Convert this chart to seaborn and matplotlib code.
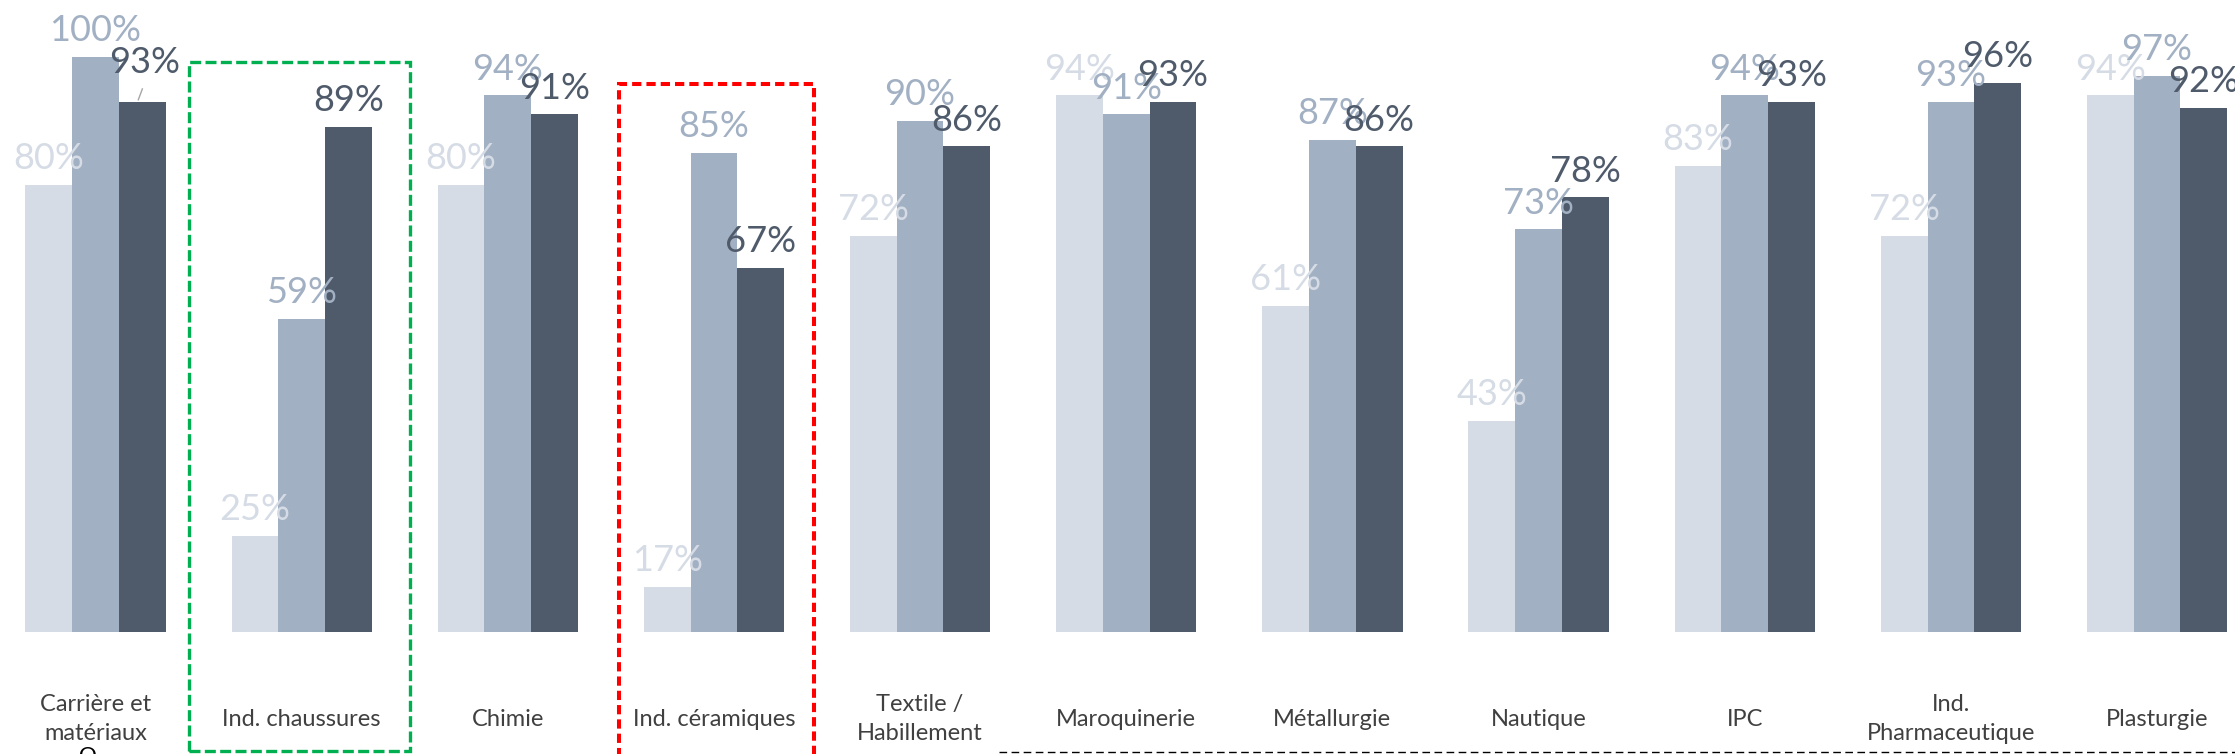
import matplotlib
matplotlib.use("Agg")
import matplotlib.pyplot as plt
import matplotlib.transforms as mtransforms
import seaborn as sns
import pandas as pd
from matplotlib.patches import Rectangle
from matplotlib.lines import Line2D

# ---------------- data ----------------
categories = ["Carrière et\nmatériaux", "Ind. chaussures", "Chimie", "Ind. céramiques",
              "Textile /\nHabillement", "Maroquinerie", "Métallurgie", "Nautique", "IPC",
              "Ind.\nPharmaceutique", "Plasturgie"]
series_names = ["Série 1", "Série 2", "Série 3"]
serie1 = [80, 25, 80, 17, 72, 94, 61, 43, 83, 72, 94]
serie2 = [100, 59, 94, 85, 90, 91, 87, 73, 94, 93, 97]
serie3 = [93, 89, 91, 67, 86, 93, 86, 78, 93, 96, 92]
colors = ["#D6DCE5", "#A2B0C3", "#4F5B6B"]

# ---------------- style ----------------
sns.set_theme(style="white")
plt.rcParams['font.family'] = ['Lato', 'DejaVu Sans']

df = pd.DataFrame({
    "cat": categories * 3,
    "serie": [s for s in series_names for _ in categories],
    "val": [v / 100 for v in serie1 + serie2 + serie3],
})

W, H = 2235, 754
fig = plt.figure(figsize=(W / 100, H / 100), dpi=100)
base_px = 631.5
ax = fig.add_axes([0, 1 - base_px / H, 1, base_px / H])

sns.barplot(data=df, x="cat", y="val", hue="serie", order=categories,
            hue_order=series_names, palette=colors, width=0.68, gap=0,
            saturation=1, legend=False, errorbar=None, linewidth=0, ax=ax)

ax.set_ylim(0.1, 1.0893)
ax.set_xlim(-0.463, 10.378)
for s in ax.spines.values():
    s.set_visible(False)
ax.set_yticks([])
ax.set_xlabel("")
ax.set_ylabel("")
ax.set_xticks(range(len(categories)), categories)
ax.tick_params(axis="x", length=0, pad=63, labelsize=17, labelcolor="#404040")
for lbl in ax.get_xticklabels():
    lbl.set_verticalalignment("center")
    lbl.set_horizontalalignment("center")
    lbl.set_multialignment("center")
    lbl.set_linespacing(1.45)

# value labels
all_vals = [serie1, serie2, serie3]
for i, (cont, col, vals) in enumerate(zip(ax.containers, colors, all_vals)):
    anns = ax.bar_label(cont, labels=[f"{v}%" for v in vals], padding=7,
                        color=col, fontsize=26, fontweight="normal")
    if i == 2:
        # first dark label lifted with a leader line
        anns[0].xyann = (2, 16)
        bar = cont.patches[0]
        xc = bar.get_x() + bar.get_width() / 2
        ytop = bar.get_height()
        ax.plot([xc - 0.02, xc + 0.002], [ytop + 0.002, ytop + 0.021],
                color="#A6A6A6", lw=1.0, solid_capstyle="butt")

# highlight boxes (x in data, y in figure fraction)
trans = mtransforms.blended_transform_factory(ax.transData, fig.transFigure)
green = Rectangle((1 - 0.545, 1 - 751 / H), 1.07, (751 - 62) / H,
                  transform=trans, fill=False, edgecolor="#00B050", lw=2.4,
                  linestyle=(0, (3.3, 1.3)), clip_on=False)
red = Rectangle((3 - 0.462, -0.05), 0.945, 1 - 84 / H + 0.05,
                transform=trans, fill=False, edgecolor="#FF0000", lw=2.9,
                linestyle=(0, (2.3, 1.25)), clip_on=False)
fig.add_artist(green)
fig.add_artist(red)

# bottom dashed rule
fig.add_artist(Line2D([999 / W, 1.0], [1 - 752 / H, 1 - 752 / H],
                      transform=fig.transFigure, color="black", lw=1.0,
                      linestyle=(0, (5.5, 3.2))))
fig.text(88 / W, 1 - 746 / H, "O", ha="center", va="top", fontsize=16,
         color="black")

fig.savefig("out.png", dpi=100)
